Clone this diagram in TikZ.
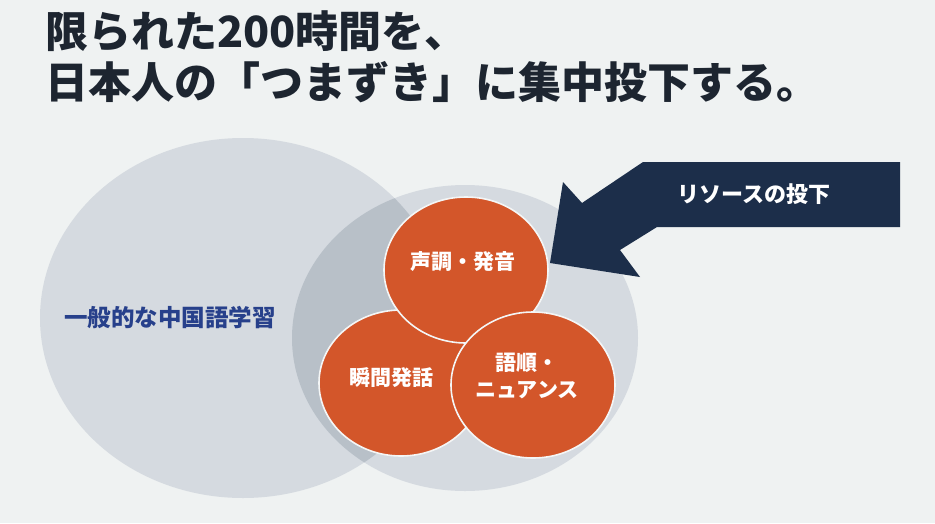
\documentclass[tikz,border=0pt]{standalone}
\usepackage{fontspec}
\newfontfamily\jp{Noto Sans CJK JP}
\usetikzlibrary{positioning,shapes.geometric}
\definecolor{bgpaper}{HTML}{EFF2F2}
\definecolor{circgray}{HTML}{D5DAE0}
\definecolor{overlapgray}{HTML}{B8C0C8}
\definecolor{accent}{HTML}{D3562A}
\definecolor{navy}{HTML}{1C2E4A}
\definecolor{titleink}{HTML}{1D2530}
\definecolor{labelblue}{HTML}{27408B}

\begin{document}
\begin{tikzpicture}[x=1pt, y=-1pt,
  every node/.style = {font=\jp\bfseries},
  headline/.style  = {anchor=base west, inner sep=0pt, text=titleink,
                      font=\jp\bfseries\fontsize{43}{48}\selectfont},
  area/.style      = {ellipse, fill=circgray, inner sep=0pt},
  skill/.style     = {ellipse, fill=accent, draw=bgpaper!70!white, line width=1.6pt,
                      minimum width=164pt, minimum height=146pt, inner sep=0pt},
  skilltext/.style = {text=white, align=center, inner sep=0pt,
                      font=\jp\bfseries\fontsize{21}{27}\selectfont},
]
  \fill[bgpaper] (0,0) rectangle (935,523);
  \useasboundingbox (0,0) rectangle (935,523);

  % title
  \node[headline] (line1) at (45,47) {限られた200時間を、};
  \node[headline] (line2) at (45,98) {日本人の「つまずき」に集中投下する。};

  % the two grey areas and their overlap
  \node[area, minimum width=406pt, minimum height=360pt] (general) at (243,318) {};
  \node[area, minimum width=346pt, minimum height=306pt] (focus) at (465,338) {};
  \begin{scope}
    \clip (243,318) ellipse [x radius=203pt, y radius=180pt];
    \fill[overlapgray] (465,338) ellipse [x radius=173pt, y radius=153pt];
  \end{scope}
  \node[text=labelblue, font=\jp\bfseries\fontsize{23.5}{28}\selectfont]
    (generaltext) at (170,318) {一般的な中国語学習};

  % three focus skills
  \node[skill] (speak) at (401,383) {};
  \node[skill] (tone) at (466,270) {};
  \node[skill] (order) at (533,385) {};
  \node[skilltext] (tonetext) at (463,262) {声調・発音};
  \node[skilltext] (speaktext) at (391,378) {瞬間発話};
  \node[skilltext] (ordertext) at (527,376) {語順・\\ニュアンス};

  % resource arrow
  \fill[navy] (900,162) -- (900,227) -- (657,227) -- (620,250) -- (640,277)
    -- (550,263) -- (563,182) -- (582,203) -- (643,162) -- cycle;
  \node[text=white, font=\jp\bfseries\fontsize{22}{26}\selectfont]
    (resource) at (754,194) {リソースの投下};
\end{tikzpicture}
\end{document}
